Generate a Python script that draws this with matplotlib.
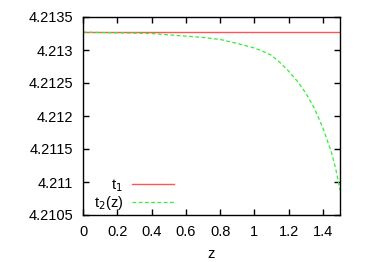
import numpy as np
import matplotlib
matplotlib.use('Agg')
import matplotlib.pyplot as plt

# values
t1 = 4.21327
z = [0.0, 0.2, 0.4, 0.6, 0.7, 0.8, 0.9, 1.0, 1.05, 1.1, 1.15, 1.2, 1.25, 1.3, 1.35,
     1.4, 1.45, 1.475, 1.5]
t2 = [4.21327, 4.21326, 4.21325, 4.21321, 4.21319, 4.21316, 4.21310, 4.21303, 4.21298,
      4.21292, 4.21281, 4.21268, 4.21253, 4.21235, 4.21212, 4.21182, 4.21145, 4.21120,
      4.21088]

xticks = [0, 0.2, 0.4, 0.6, 0.8, 1, 1.2, 1.4]
xticklabels = ['0', '0.2', '0.4', '0.6', '0.8', '1', '1.2', '1.4']
yticks = [4.2105, 4.211, 4.2115, 4.212, 4.2125, 4.213, 4.2135]
yticklabels = ['4.2105', '4.211', '4.2115', '4.212', '4.2125', '4.213', '4.2135']

plt.rcParams['font.family'] = ['Liberation Sans', 'DejaVu Sans']
plt.rcParams['font.size'] = 10.5

fig = plt.figure(figsize=(3.74, 2.62), dpi=100)
ax = fig.add_axes([83 / 374, 1 - 215 / 262, 257 / 374, 198 / 262])

ax.plot([0, 1.5], [t1, t1], color='#ff5555', lw=1.0, label='t$_1$')
ax.plot(z, t2, color='#33ee33', lw=0.9, dashes=(3, 2), label='t$_2$(z)')

ax.set_xlim(0, 1.5)
ax.set_ylim(4.2105, 4.2135)
ax.set_xticks(xticks)
ax.set_xticklabels(xticklabels)
ax.set_yticks(yticks)
ax.set_yticklabels(yticklabels)
ax.tick_params(direction='in', top=True, right=True, length=4, width=1, pad=7)
for s in ax.spines.values():
    s.set_linewidth(1)
ax.set_xlabel('z', labelpad=6)

ax.legend(loc='lower right', bbox_to_anchor=(0.40, -0.045), frameon=False,
          markerfirst=False, handlelength=2.9, handletextpad=0.6,
          labelspacing=0.0, borderpad=0.3)

fig.savefig('out.png', dpi=100)
